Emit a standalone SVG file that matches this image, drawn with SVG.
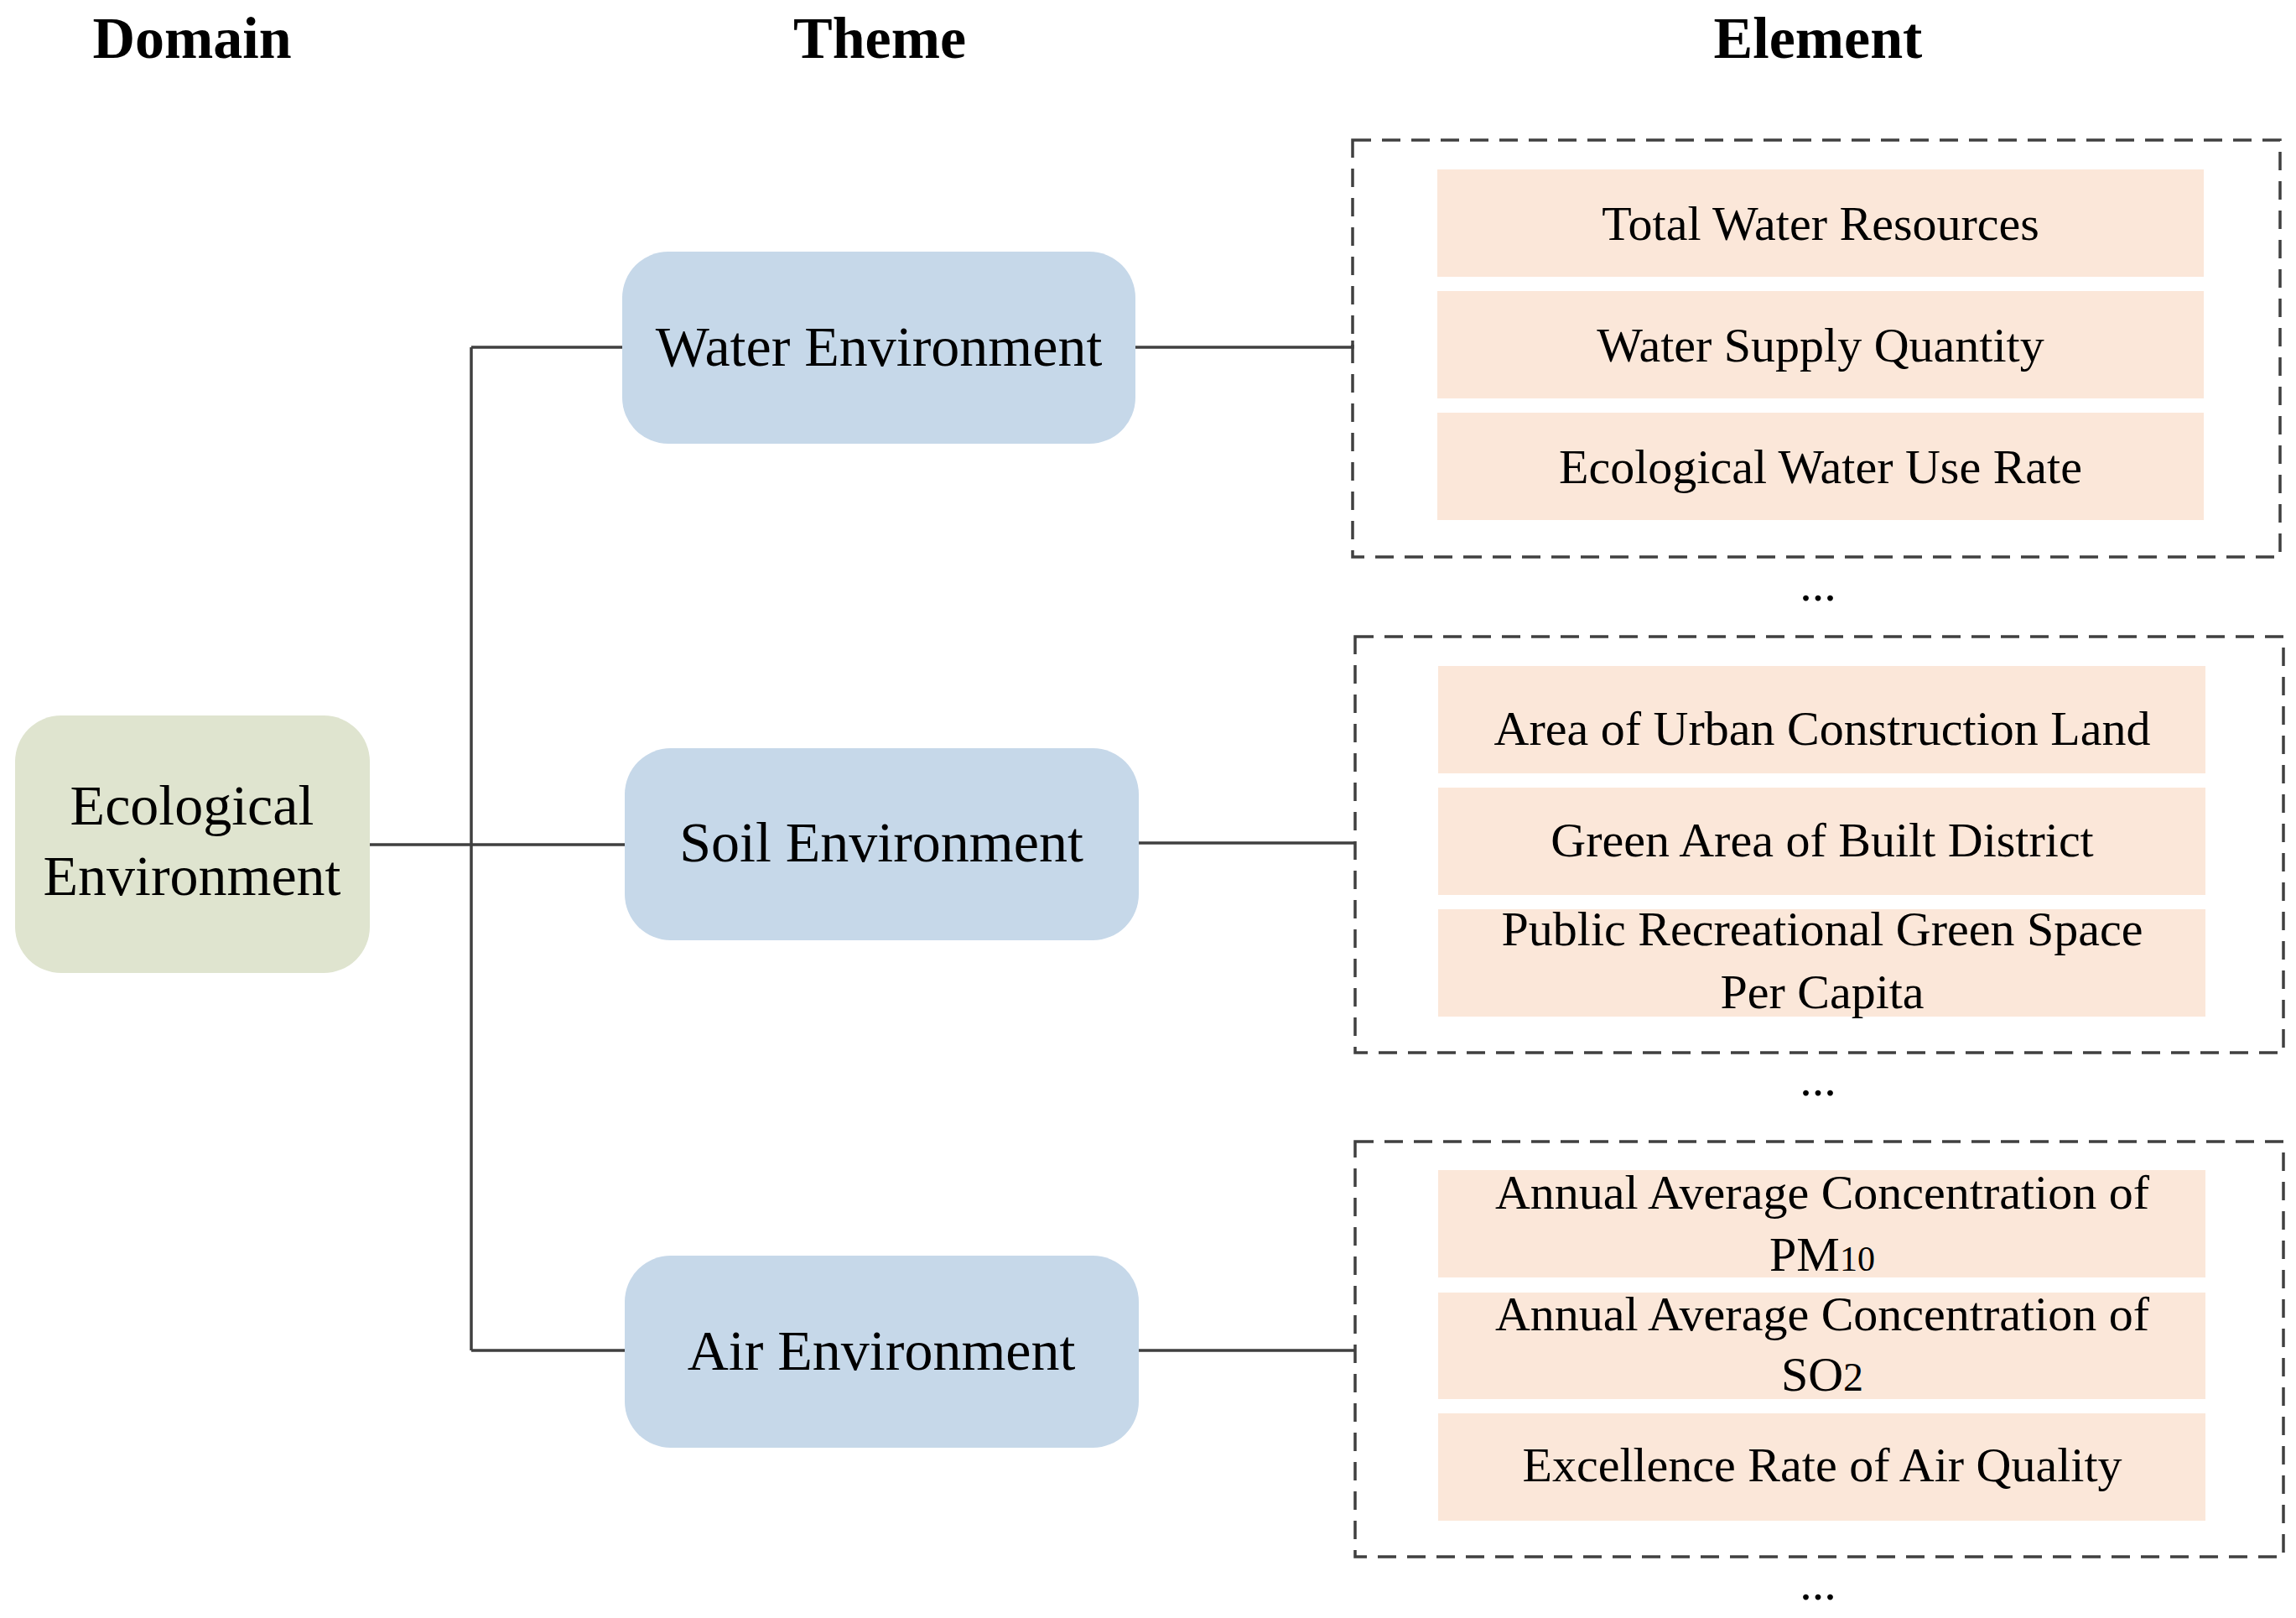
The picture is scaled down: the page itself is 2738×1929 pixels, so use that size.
<svg xmlns="http://www.w3.org/2000/svg" width="2738" height="1929" viewBox="0 0 2738 1929">
<style>
text{font-family:"Liberation Serif","Times New Roman",serif;fill:#000;text-anchor:middle}
.h{font-size:70px;font-weight:bold}
.t{font-size:68px}
.e{font-size:58px}
.theme{fill:#c6d8e9}
.dom{fill:#dfe4cf}
.el{fill:#fbe7d9}
.dash{fill:none;stroke:#404040;stroke-width:3.5;stroke-dasharray:22 13}
.c{fill:none;stroke:#404040;stroke-width:3.5}
</style>
<rect width="2738" height="1929" fill="#fff"/>
<g id="headers">
<text class="h" x="229" y="69">Domain</text>
<text class="h" x="1049" y="69">Theme</text>
<text class="h" x="2168" y="69">Element</text>
</g>
<g id="connectors">
<path class="c" d="M562 414V1610M441 1007H745M562 414H742M562 1610H745"/>
<path class="c" d="M1354 414H1613V406M1358 1005H1616M1358 1610H1616"/>
</g>
<g id="domain"><rect class="dom" x="18" y="853" width="423" height="307" rx="55"/>
<text class="t" x="229" y="983">Ecological</text><text class="t" x="229" y="1067">Environment</text></g>
<g id="water"><rect class="theme" x="742" y="300" width="612" height="229" rx="55"/><text class="t" x="1048" y="436">Water Environment</text></g>
<g id="soil"><rect class="theme" x="745" y="892" width="613" height="229" rx="55"/><text class="t" x="1051" y="1027">Soil Environment</text></g>
<g id="air"><rect class="theme" x="745" y="1497" width="613" height="229" rx="55"/><text class="t" x="1051" y="1633">Air Environment</text></g>
<g id="water-elements">
<rect class="dash" x="1613" y="167" width="1106" height="497"/>
<rect class="el" x="1714" y="202" width="914" height="128"/><text class="e" x="2171" y="286">Total Water Resources</text>
<rect class="el" x="1714" y="347" width="914" height="128"/><text class="e" x="2171" y="431">Water Supply Quantity</text>
<rect class="el" x="1714" y="492" width="914" height="128"/><text class="e" x="2171" y="576">Ecological Water Use Rate</text>
<text class="e" x="2168" y="716">...</text>
</g>
<g id="soil-elements">
<rect class="dash" x="1616" y="759" width="1107" height="496"/>
<rect class="el" x="1715" y="794" width="915" height="128"/><text class="e" x="2173" y="888">Area of Urban Construction Land</text>
<rect class="el" x="1715" y="939" width="915" height="128"/><text class="e" x="2173" y="1021">Green Area of Built District</text>
<rect class="el" x="1715" y="1084" width="915" height="128"/><text class="e" x="2173" y="1127">Public Recreational Green Space</text><text class="e" x="2173" y="1202">Per Capita</text>
<text class="e" x="2168" y="1306">...</text>
</g>
<g id="air-elements">
<rect class="dash" x="1616" y="1361" width="1107" height="495"/>
<rect class="el" x="1715" y="1395" width="915" height="128"/><text class="e" x="2173" y="1441">Annual Average Concentration of</text><text class="e" x="2173" y="1515">PM<tspan font-size="42">10</tspan></text>
<rect class="el" x="1715" y="1541" width="915" height="127"/><text class="e" x="2173" y="1586">Annual Average Concentration of</text><text class="e" x="2173" y="1658">SO<tspan font-size="48">2</tspan></text>
<rect class="el" x="1715" y="1685" width="915" height="128"/><text class="e" x="2173" y="1766">Excellence Rate of Air Quality</text>
<text class="e" x="2168" y="1907">...</text>
</g>
</svg>
